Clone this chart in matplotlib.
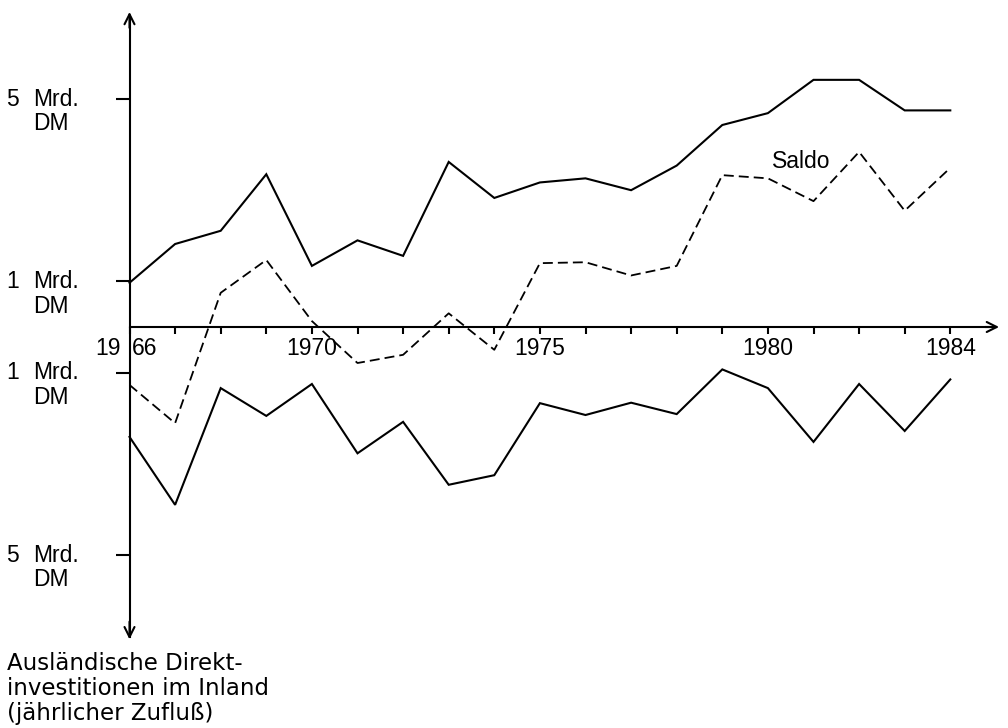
import matplotlib
matplotlib.use("Agg")
import matplotlib.pyplot as plt
from matplotlib.ticker import FixedLocator

plt.rcParams['font.family'] = ['Liberation Sans', 'DejaVu Sans']

# values in Mrd. DM
years = list(range(1966, 1985))
abroad = [0.97, 1.82, 2.11, 3.35, 1.34, 1.90, 1.56, 3.62, 2.83, 3.17,
          3.26, 3.00, 3.54, 4.43, 4.69, 5.42, 5.42, 4.75, 4.75]
inland = [2.41, 3.90, 1.34, 1.95, 1.25, 2.77, 2.08, 3.46, 3.25, 1.67,
          1.93, 1.66, 1.91, 0.93, 1.34, 2.52, 1.25, 2.28, 1.15]
saldo = [-1.27, -2.11, 0.75, 1.47, 0.13, -0.79, -0.61, 0.30, -0.50, 1.40,
         1.42, 1.13, 1.34, 3.33, 3.26, 2.76, 3.84, 2.55, 3.49]
labelled_years = [1970, 1975, 1980, 1984]
y_ticks = [5, 1, -1, -5]
y_tick_numbers = ['5', '1', '1', '5']

W, H = 1008, 728
px = 45.6          # pixels per year and per Mrd. DM
x0_px, zero_px = 129.5, 327
fs = 16.5

fig = plt.figure(figsize=(W / 100, H / 100), dpi=100)
ax = fig.add_axes([0, 0, 1, 1])
ax.set_xlim(1966 - x0_px / px, 1966 + (W - x0_px) / px)
ax.set_ylim(-(H - zero_px) / px, zero_px / px)

lw = 1.5
ax.plot(years, abroad, color='black', lw=lw, solid_joinstyle='miter')
ax.plot(years, [-v for v in inland], color='black', lw=lw, solid_joinstyle='miter')
ax.plot(years, saldo, color='black', lw=1.3, linestyle=(0, (5.5, 2.8)))

# axes as crossing lines with arrows
for s in ['top', 'right']:
    ax.spines[s].set_visible(False)
ax.spines['left'].set_position(('data', 1966))
ax.spines['bottom'].set_position(('data', 0))
ax.spines['left'].set_bounds(-6.8, 6.8)
ax.spines['bottom'].set_bounds(1966, 1985.0)
ax.spines['left'].set_linewidth(lw)
ax.spines['bottom'].set_linewidth(lw)

arrow = dict(arrowstyle='->', lw=lw, mutation_scale=18, color='black')
ax.annotate('', xy=(1966, 6.97), xytext=(1966, 6.5), arrowprops=arrow)
ax.annotate('', xy=(1966, -6.91), xytext=(1966, -6.4), arrowprops=arrow)
ax.annotate('', xy=(1985.13, 0), xytext=(1984.7, 0), arrowprops=arrow)

ax.xaxis.set_major_locator(FixedLocator(years))
ax.set_xticklabels([str(y) if y in labelled_years else '' for y in years],
                   fontsize=fs)
ax.tick_params(axis='x', direction='out', length=5, width=lw, pad=2)
ax.yaxis.set_major_locator(FixedLocator(y_ticks))
ax.set_yticklabels([])
ax.tick_params(axis='y', direction='out', length=10, width=lw)

# split first year label around the y axis
ax.annotate('19', xy=(1966, 0), xytext=(-6.5, -7), textcoords='offset points',
            ha='right', va='top', fontsize=fs)
ax.annotate('66', xy=(1966, 0), xytext=(2, -7), textcoords='offset points',
            ha='left', va='top', fontsize=fs)

for val, num in zip(y_ticks, y_tick_numbers):
    ax.annotate(num, xy=(19, val), xycoords=('figure pixels', 'data'),
                ha='right', va='center', fontsize=fs)
    ax.annotate('Mrd.', xy=(33, val), xycoords=('figure pixels', 'data'),
                ha='left', va='center', fontsize=fs)
    ax.annotate('DM', xy=(33, val), xycoords=('figure pixels', 'data'),
                xytext=(0, -18), textcoords='offset points',
                ha='left', va='center', fontsize=fs)

ax.text(1980.1, 3.64, 'Saldo', ha='left', va='center', fontsize=fs)

fig.text(7 / W, 1 - 652 / H,
         'Ausländische Direkt-\ninvestitionen im Inland\n(jährlicher Zufluß)',
         ha='left', va='top', fontsize=16.5, family='DejaVu Sans',
         linespacing=1.1)

fig.savefig('out.png', dpi=100)
